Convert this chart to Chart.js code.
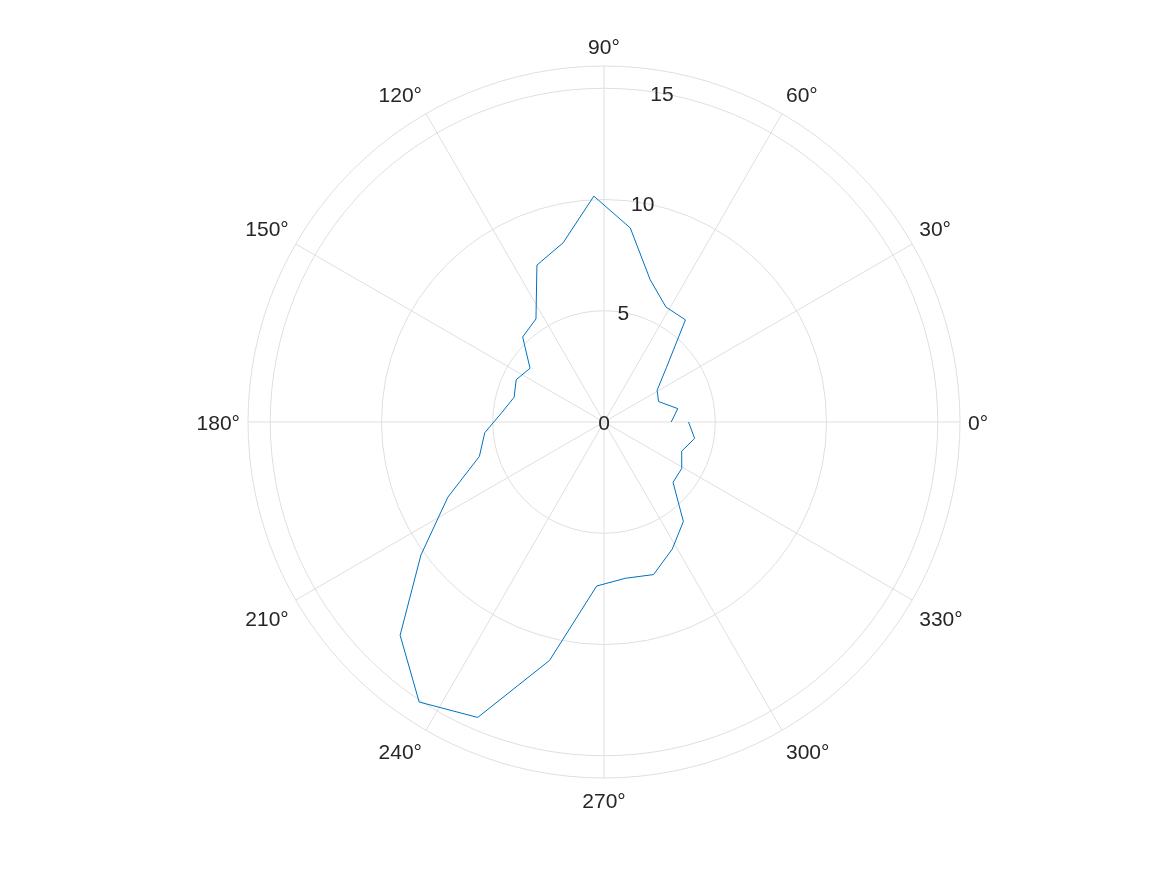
<!DOCTYPE html>
<html>
<head>
<meta charset="utf-8">
<script src="https://cdn.jsdelivr.net/npm/chart.js@4/dist/chart.umd.min.js"></script>
<style>
  html, body { margin: 0; padding: 0; background: #ffffff; }
  #wrap { position: relative; width: 1167px; height: 875px; }
</style>
</head>
<body>
<div id="wrap"><canvas id="chart"></canvas></div>
<script>
// ---- data (theta in degrees, counter-clockwise from 0° at the right) ----
const thetaDeg = [0, 10.29, 20.57, 30.86, 41.14, 51.43, 61.71, 72, 82.29, 92.57,
  102.86, 113.14, 123.43, 133.71, 144, 154.29, 164.57, 174.86, 185.14, 195.43,
  205.71, 216, 226.29, 236.57, 246.86, 257.14, 267.43, 277.71, 288, 298.29,
  308.57, 318.86, 329.14, 339.43, 349.71, 360];
const rho = [3.02, 3.37, 2.62, 2.78, 3.73, 5.87, 5.87, 6.72, 8.80, 10.16,
  8.26, 7.67, 5.55, 5.29, 4.11, 4.38, 4.19, 4.62, 5.38, 5.81,
  7.79, 10.17, 13.26, 15.08, 14.44, 10.99, 7.38, 7.09, 7.21, 6.48,
  5.72, 4.12, 4.07, 3.73, 4.14, 3.80];

// ---- axis ticks ----
const rRingValues = [0, 5, 10, 15, 16];
const rTickLabels = [0, 5, 10, 15];
const rMax = 16;
const rTickAngle = 80;
const thetaTickLabels = [0, 30, 60, 90, 120, 150, 180, 210, 240, 270, 300, 330];

// ---- styles ----
const lineColor = '#0072BD';
const gridColor = '#dfdfdf';
const textColor = '#262626';
const fontSpec = '21px "Liberation Sans", Arial, Helvetica, sans-serif';

// Radar scale goes clockwise; MATLAB polar goes counter-clockwise.
// Unique angles: N = 35 (last sample at 360° coincides with 0°).
const N = thetaDeg.length - 1;
const kOfIndex = i => (N - i) % N;           // chart index -> sample index
const radarLabels = [];
for (let i = 0; i < N; i++) radarLabels.push(String(thetaDeg[kOfIndex(i)]));

// Path A: samples 35 -> 34 -> ... -> 2  (indices 0..33)
const pathA = [];
// Path B: samples 2 -> 1 -> 0 (indices 33, 34, 0)
const pathB = [];
for (let i = 0; i < N; i++) {
  if (i === 0) { pathA.push(rho[N]); pathB.push(rho[0]); }
  else if (i <= N - 2) { pathA.push(rho[N - i]); pathB.push(i === N - 2 ? rho[N - i] : null); }
  else { pathA.push(null); pathB.push(rho[N - i]); }
}

const lineStyle = {
  borderColor: lineColor, backgroundColor: lineColor, borderWidth: 1,
  pointRadius: 0, pointHoverRadius: 0, fill: false, tension: 0, spanGaps: false
};

const polarDecor = {
  id: 'polarDecor',
  beforeDatasetsDraw(chart) {
    const s = chart.scales.r, ctx = chart.ctx;
    const R = s.getDistanceFromCenterForValue(rMax);
    ctx.save();
    ctx.strokeStyle = gridColor;
    ctx.lineWidth = 1;
    thetaTickLabels.forEach(a => {
      const t = a * Math.PI / 180;
      ctx.beginPath();
      ctx.moveTo(s.xCenter, s.yCenter);
      ctx.lineTo(s.xCenter + R * Math.cos(t), s.yCenter - R * Math.sin(t));
      ctx.stroke();
    });
    ctx.restore();
  },
  afterDatasetsDraw(chart) {
    const s = chart.scales.r, ctx = chart.ctx;
    const R = s.getDistanceFromCenterForValue(rMax);
    ctx.save();
    ctx.fillStyle = textColor;
    ctx.font = fontSpec;
    ctx.textBaseline = 'alphabetic';
    // radial tick labels
    const tr = rTickAngle * Math.PI / 180;
    ctx.textAlign = 'center';
    rTickLabels.forEach(v => {
      const d = s.getDistanceFromCenterForValue(v);
      ctx.fillText(String(v), s.xCenter + d * Math.cos(tr), s.yCenter - d * Math.sin(tr) + 7.8);
    });
    // angular tick labels
    const Rl = R + 8;
    thetaTickLabels.forEach(a => {
      const t = a * Math.PI / 180;
      const c = Math.cos(t), sn = Math.sin(t);
      const px = s.xCenter + Rl * c, py = s.yCenter - Rl * sn;
      ctx.textAlign = c > 0.01 ? 'left' : (c < -0.01 ? 'right' : 'center');
      let by;
      if (sn > 0.01) by = py - 4.5;
      else if (sn < -0.01) by = py + 21.5;
      else by = py + 7.8;
      ctx.fillText(a + '\u00B0', px, by);
    });
    ctx.restore();
  }
};

new Chart(document.getElementById('chart'), {
  type: 'radar',
  data: {
    labels: radarLabels,
    datasets: [
      Object.assign({ label: 'A', data: pathA }, lineStyle),
      Object.assign({ label: 'B', data: pathB }, lineStyle)
    ]
  },
  options: {
    responsive: true,
    maintainAspectRatio: false,
    animation: false,
    layout: { padding: { left: 248, right: 207, top: 66, bottom: 97 } },
    plugins: { legend: { display: false }, tooltip: { enabled: false } },
    scales: {
      r: {
        min: 0, max: rMax, startAngle: 90,
        ticks: { display: false, stepSize: 5 },
        afterBuildTicks: sc => { sc.ticks = rRingValues.map(v => ({ value: v })); },
        grid: { circular: true, color: gridColor, lineWidth: 1 },
        angleLines: { display: false },
        pointLabels: { display: false }
      }
    }
  },
  plugins: [polarDecor]
});
</script>
</body>
</html>
